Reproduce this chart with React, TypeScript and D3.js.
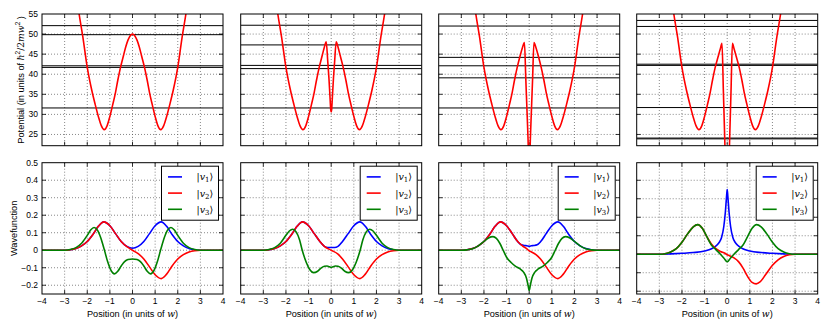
import React, { useEffect, useRef } from "react";
import * as d3 from "d3";

const W = 830;
const H = 332;

// panel layout
const panelLeft = [42, 240.7, 438.7, 636.7];
const panelWidth = 181;
const topRow = [14, 145.7];
const bottomRow = [162.7, 294];

const xTicks = [-4, -3, -2, -1, 0, 1, 2, 3, 4];
const potTicks = [25, 30, 35, 40, 45, 50, 55];
const waveTicks = [-0.2, -0.1, 0, 0.1, 0.2, 0.3, 0.4, 0.5];
const potDomain = [22.2, 55];
const waveDomains = [
	[-0.25, 0.5],
	[-0.25, 0.5],
	[-0.25, 0.5],
	[-0.215, 0.495],
];

const legendIndex = ["1", "2", "3"];
const colors = ["#0000ff", "#ff0000", "#008000"];

// potential curves (x, V)
const pot1 = [
	[-2.55, 63], [-2.36, 55], [-2.2, 49.5], [-2.0, 41.7], [-1.8, 36], [-1.65, 32.5], [-1.5, 29.3],
	[-1.38, 27.2], [-1.25, 26.2], [-1.12, 27.2], [-1.0, 29.5], [-0.87, 32.5], [-0.75, 35.5],
	[-0.65, 38.5], [-0.53, 41.7], [-0.4, 44.6], [-0.3, 46.8], [-0.2, 48.5], [-0.1, 49.6], [0, 50],
	[0.1, 49.6], [0.2, 48.5], [0.3, 46.8], [0.4, 44.6], [0.53, 41.7], [0.65, 38.5], [0.75, 35.5],
	[0.87, 32.5], [1.0, 29.5], [1.12, 27.2], [1.25, 26.2], [1.38, 27.2], [1.5, 29.3], [1.65, 32.5],
	[1.8, 36], [2.0, 41.7], [2.2, 49.5], [2.36, 55], [2.55, 63],
];
const pot2 = [
	[-2.55, 63], [-2.36, 55], [-2.2, 49.5], [-2.0, 41.7], [-1.8, 36], [-1.65, 32.5], [-1.5, 29.3],
	[-1.38, 27.2], [-1.25, 26.2], [-1.12, 27.2], [-1.0, 29.5], [-0.87, 32.5], [-0.75, 35.5],
	[-0.65, 38.5], [-0.53, 41.7], [-0.4, 44.6], [-0.3, 46.8], [-0.22, 48.1], [-0.15, 43],
	[-0.1, 39], [-0.05, 34], [-0.02, 31.2], [0, 30.6], [0.02, 31.2], [0.05, 34], [0.1, 39],
	[0.15, 43], [0.22, 48.1], [0.3, 46.8], [0.4, 44.6], [0.53, 41.7], [0.65, 38.5], [0.75, 35.5],
	[0.87, 32.5], [1.0, 29.5], [1.12, 27.2], [1.25, 26.2], [1.38, 27.2], [1.5, 29.3], [1.65, 32.5],
	[1.8, 36], [2.0, 41.7], [2.2, 49.5], [2.36, 55], [2.55, 63],
];
const pot3 = [
	[-2.55, 63], [-2.36, 55], [-2.2, 49.5], [-2.0, 41.7], [-1.8, 36], [-1.65, 32.5], [-1.5, 29.3],
	[-1.38, 27.2], [-1.25, 26.2], [-1.12, 27.2], [-1.0, 29.5], [-0.87, 32.5], [-0.75, 35.5],
	[-0.65, 38.5], [-0.53, 41.7], [-0.4, 44.6], [-0.3, 46.6], [-0.21, 47.9], [-0.15, 38.8],
	[-0.1, 31.3], [-0.05, 23.7], [0, 14], [0.05, 23.7], [0.1, 31.3], [0.15, 38.8], [0.21, 47.9],
	[0.3, 46.6], [0.4, 44.6], [0.53, 41.7], [0.65, 38.5], [0.75, 35.5], [0.87, 32.5], [1.0, 29.5],
	[1.12, 27.2], [1.25, 26.2], [1.38, 27.2], [1.5, 29.3], [1.65, 32.5], [1.8, 36], [2.0, 41.7],
	[2.2, 49.5], [2.36, 55], [2.55, 63],
];
const pot4 = [
	[-2.55, 63], [-2.36, 55], [-2.2, 49.5], [-2.0, 41.7], [-1.8, 36], [-1.65, 32.5], [-1.5, 29.3],
	[-1.38, 27.2], [-1.25, 26.2], [-1.12, 27.2], [-1.0, 29.5], [-0.87, 32.5], [-0.75, 35.5],
	[-0.65, 38.5], [-0.53, 41.7], [-0.4, 44.4], [-0.3, 46.4], [-0.23, 47.7], [-0.17, 36],
	[-0.1, 22.2], [-0.06, 14], [0, 6], [0.06, 14], [0.1, 22.2], [0.17, 36], [0.23, 47.7],
	[0.3, 46.4], [0.4, 44.4], [0.53, 41.7], [0.65, 38.5], [0.75, 35.5], [0.87, 32.5], [1.0, 29.5],
	[1.12, 27.2], [1.25, 26.2], [1.38, 27.2], [1.5, 29.3], [1.65, 32.5], [1.8, 36], [2.0, 41.7],
	[2.2, 49.5], [2.36, 55], [2.55, 63],
];

// energy levels
const levels1 = [52.1, 49.85, 42.1, 41.7, 31.6];
const levels2 = [52.2, 47.3, 42.2, 41.4, 31.6];
const levels3 = [52.0, 44.2, 42.1, 39.1, 31.6];
const levels4 = [53.4, 51.9, 42.5, 42.2, 31.7, 24.1, 23.9];

// wavefunctions, panel 1
const blue1 = [
	[-4, 0], [-3, 0], [-2.75, 0.003], [-2.5, 0.01], [-2.25, 0.025], [-2, 0.05], [-1.75, 0.09],
	[-1.5, 0.138], [-1.27, 0.162], [-1, 0.14], [-0.75, 0.095], [-0.5, 0.05], [-0.25, 0.022],
	[0, 0.011], [0.25, 0.022], [0.5, 0.05], [0.75, 0.095], [1, 0.14], [1.27, 0.162], [1.5, 0.138],
	[1.75, 0.09], [2, 0.05], [2.25, 0.025], [2.5, 0.01], [2.75, 0.003], [3, 0], [4, 0],
];
const red1 = [
	[-4, 0], [-3, 0], [-2.75, 0.003], [-2.5, 0.01], [-2.25, 0.025], [-2, 0.05], [-1.75, 0.09],
	[-1.5, 0.138], [-1.27, 0.162], [-1, 0.14], [-0.75, 0.095], [-0.5, 0.05], [-0.25, 0.02],
	[0, 0], [0.25, -0.02], [0.5, -0.05], [0.75, -0.095], [1, -0.14], [1.27, -0.162], [1.5, -0.138],
	[1.75, -0.09], [2, -0.05], [2.25, -0.025], [2.5, -0.01], [2.75, -0.003], [3, 0], [4, 0],
];
const green1 = [
	[-4, 0], [-3, 0], [-2.75, 0.004], [-2.5, 0.015], [-2.25, 0.04], [-2, 0.085], [-1.85, 0.115],
	[-1.7, 0.13], [-1.55, 0.115], [-1.4, 0.07], [-1.25, 0.005], [-1.1, -0.065], [-0.95, -0.115],
	[-0.8, -0.135], [-0.65, -0.12], [-0.5, -0.09], [-0.35, -0.065], [-0.2, -0.053], [0, -0.05],
	[0.2, -0.053], [0.35, -0.065], [0.5, -0.09], [0.65, -0.12], [0.8, -0.135], [0.95, -0.115],
	[1.1, -0.065], [1.25, 0.005], [1.4, 0.07], [1.55, 0.115], [1.7, 0.13], [1.85, 0.115],
	[2, 0.085], [2.25, 0.04], [2.5, 0.015], [2.75, 0.004], [3, 0], [4, 0],
];

// panel 2
const blue2 = [
	[-4, 0], [-3, 0], [-2.75, 0.003], [-2.5, 0.01], [-2.25, 0.025], [-2, 0.05], [-1.75, 0.09],
	[-1.5, 0.138], [-1.27, 0.162], [-1, 0.14], [-0.75, 0.095], [-0.5, 0.05], [-0.3, 0.022],
	[-0.15, 0.016], [0, 0.016], [0.15, 0.016], [0.3, 0.022], [0.5, 0.05], [0.75, 0.095],
	[1, 0.14], [1.27, 0.162], [1.5, 0.138], [1.75, 0.09], [2, 0.05], [2.25, 0.025], [2.5, 0.01],
	[2.75, 0.003], [3, 0], [4, 0],
];
const red2 = [
	[-4, 0], [-3, 0], [-2.75, 0.003], [-2.5, 0.01], [-2.25, 0.025], [-2, 0.05], [-1.75, 0.09],
	[-1.5, 0.138], [-1.27, 0.162], [-1, 0.14], [-0.75, 0.095], [-0.5, 0.05], [-0.3, 0.022],
	[0, 0], [0.3, -0.022], [0.5, -0.05], [0.75, -0.095], [1, -0.14], [1.27, -0.162], [1.5, -0.138],
	[1.75, -0.09], [2, -0.05], [2.25, -0.025], [2.5, -0.01], [2.75, -0.003], [3, 0], [4, 0],
];
const green2 = [
	[-4, 0], [-3, 0], [-2.75, 0.004], [-2.5, 0.015], [-2.25, 0.04], [-2, 0.085], [-1.85, 0.11],
	[-1.7, 0.12], [-1.55, 0.105], [-1.4, 0.06], [-1.28, 0.0], [-1.1, -0.07], [-0.95, -0.11],
	[-0.78, -0.128], [-0.6, -0.12], [-0.45, -0.102], [-0.3, -0.092], [-0.18, -0.09],
	[-0.08, -0.095], [0, -0.098], [0.08, -0.095], [0.18, -0.09], [0.3, -0.092], [0.45, -0.102],
	[0.6, -0.12], [0.78, -0.128], [0.95, -0.11], [1.1, -0.07], [1.28, 0.0], [1.4, 0.06],
	[1.55, 0.105], [1.7, 0.12], [1.85, 0.11], [2, 0.085], [2.25, 0.04], [2.5, 0.015],
	[2.75, 0.004], [3, 0], [4, 0],
];

// panel 3
const blue3 = [
	[-4, 0], [-3, 0], [-2.75, 0.003], [-2.5, 0.01], [-2.25, 0.025], [-2, 0.05], [-1.75, 0.09],
	[-1.5, 0.138], [-1.27, 0.162], [-1, 0.14], [-0.75, 0.095], [-0.5, 0.048], [-0.35, 0.031],
	[-0.2, 0.027], [-0.1, 0.026], [0, 0.022], [0.1, 0.026], [0.2, 0.027], [0.35, 0.031],
	[0.5, 0.048], [0.75, 0.095], [1, 0.14], [1.27, 0.162], [1.5, 0.138], [1.75, 0.09], [2, 0.05],
	[2.25, 0.025], [2.5, 0.01], [2.75, 0.003], [3, 0], [4, 0],
];
const red3 = [
	[-4, 0], [-3, 0], [-2.75, 0.003], [-2.5, 0.01], [-2.25, 0.025], [-2, 0.05], [-1.75, 0.09],
	[-1.5, 0.138], [-1.27, 0.162], [-1, 0.14], [-0.75, 0.095], [-0.5, 0.048], [-0.3, 0.025],
	[-0.1, 0.008], [0, -0.004], [0.1, -0.01], [0.3, -0.025], [0.5, -0.05], [0.75, -0.095],
	[1, -0.14], [1.27, -0.162], [1.5, -0.138], [1.75, -0.09], [2, -0.05], [2.25, -0.025],
	[2.5, -0.01], [2.75, -0.003], [3, 0], [4, 0],
];
const green3 = [
	[-4, 0], [-3, 0], [-2.75, 0.002], [-2.5, 0.008], [-2.25, 0.025], [-2, 0.05], [-1.8, 0.07],
	[-1.6, 0.078], [-1.45, 0.068], [-1.3, 0.04], [-1.15, 0.0], [-1.0, -0.04], [-0.8, -0.07],
	[-0.6, -0.092], [-0.4, -0.107], [-0.25, -0.125], [-0.12, -0.16], [-0.05, -0.2], [0, -0.23],
	[0.05, -0.2], [0.12, -0.16], [0.25, -0.125], [0.4, -0.107], [0.6, -0.092], [0.8, -0.07],
	[1.0, -0.04], [1.15, 0.0], [1.3, 0.04], [1.45, 0.068], [1.6, 0.078], [1.8, 0.07], [2, 0.05],
	[2.25, 0.025], [2.5, 0.008], [2.75, 0.002], [3, 0], [4, 0],
];

// panel 4
const blue4 = [
	[-4, 0], [-3, 0], [-2.5, 0.002], [-2, 0.005], [-1.5, 0.009], [-1, 0.017], [-0.8, 0.024],
	[-0.6, 0.036], [-0.45, 0.05], [-0.35, 0.065], [-0.25, 0.09], [-0.15, 0.15], [-0.08, 0.23],
	[-0.03, 0.31], [0, 0.35], [0.03, 0.31], [0.08, 0.23], [0.15, 0.15], [0.25, 0.09],
	[0.35, 0.065], [0.45, 0.05], [0.6, 0.036], [0.8, 0.024], [1, 0.017], [1.5, 0.009],
	[2, 0.005], [2.5, 0.002], [3, 0], [4, 0],
];
const red4 = [
	[-4, 0], [-3, 0], [-2.75, 0.003], [-2.5, 0.012], [-2.25, 0.03], [-2, 0.065], [-1.75, 0.11],
	[-1.5, 0.148], [-1.3, 0.16], [-1.1, 0.14], [-0.9, 0.095], [-0.7, 0.055], [-0.5, 0.03],
	[-0.3, 0.015], [-0.1, 0.005], [0, -0.003], [0.1, -0.008], [0.3, -0.02], [0.5, -0.04],
	[0.7, -0.075], [0.9, -0.12], [1.1, -0.152], [1.28, -0.16], [1.45, -0.15], [1.7, -0.11],
	[2, -0.06], [2.25, -0.03], [2.5, -0.012], [2.75, -0.003], [3, 0], [4, 0],
];
const green4 = [
	[-4, 0], [-3, 0], [-2.75, 0.003], [-2.5, 0.012], [-2.25, 0.03], [-2, 0.065], [-1.75, 0.11],
	[-1.5, 0.148], [-1.3, 0.16], [-1.1, 0.14], [-0.9, 0.095], [-0.7, 0.05], [-0.5, 0.025],
	[-0.3, 0.0], [-0.15, -0.02], [0, -0.04], [0.15, -0.02], [0.3, 0.0], [0.5, 0.025], [0.7, 0.05],
	[0.9, 0.095], [1.1, 0.14], [1.3, 0.16], [1.5, 0.148], [1.75, 0.11], [2, 0.065], [2.25, 0.03],
	[2.5, 0.012], [2.75, 0.003], [3, 0], [4, 0],
];

const potentials = [pot1, pot2, pot3, pot4];
const levels = [levels1, levels2, levels3, levels4];
const waves = [
	[blue1, red1, green1],
	[blue2, red2, green2],
	[blue3, red3, green3],
	[blue4, red4, green4],
];

const tickFont = "'Liberation Sans', Arial, sans-serif";
const mathFont = "'DejaVu Serif', serif";
const fmt = (v: number) => {
	const s = Number.isInteger(v) ? `${v}` : v.toFixed(1);
	return s.replace("-", "\u2212");
};

export default function App() {
	const ref = useRef<SVGSVGElement>(null);

	useEffect(() => {
		const svg = d3.select(ref.current);
		svg.selectAll("*").remove();
		svg.append("rect").attr("width", W).attr("height", H).attr("fill", "#fff");
		const defs = svg.append("defs");

		const drawAxes = (
			g: any,
			x: any,
			y: any,
			yTicks: number[],
			showYLabels: boolean,
			showXLabels: boolean
		) => {
			const [x0, x1] = x.range();
			const [y1, y0] = y.range();
			const innerX = xTicks.filter(t => x(t) > x0 + 0.5 && x(t) < x1 - 0.5);
			const innerY = yTicks.filter(t => y(t) > y0 + 0.5 && y(t) < y1 - 0.5);

			// grid
			g.selectAll(null)
				.data(innerX)
				.enter()
				.append("line")
				.attr("x1", d => x(d))
				.attr("x2", d => x(d))
				.attr("y1", y0)
				.attr("y2", y1)
				.attr("stroke", "#555")
				.attr("stroke-width", 0.7)
				.attr("stroke-dasharray", "1,2");
			g.selectAll(null)
				.data(innerY)
				.enter()
				.append("line")
				.attr("x1", x0)
				.attr("x2", x1)
				.attr("y1", d => y(d))
				.attr("y2", d => y(d))
				.attr("stroke", "#555")
				.attr("stroke-width", 0.7)
				.attr("stroke-dasharray", "1,2");

			// inward ticks on all four sides
			innerX.forEach(t => {
				g.append("line").attr("x1", x(t)).attr("x2", x(t)).attr("y1", y1).attr("y2", y1 - 4)
					.attr("stroke", "#000").attr("stroke-width", 0.8);
				g.append("line").attr("x1", x(t)).attr("x2", x(t)).attr("y1", y0).attr("y2", y0 + 4)
					.attr("stroke", "#000").attr("stroke-width", 0.8);
			});
			innerY.forEach(t => {
				g.append("line").attr("x1", x0).attr("x2", x0 + 4).attr("y1", y(t)).attr("y2", y(t))
					.attr("stroke", "#000").attr("stroke-width", 0.8);
				g.append("line").attr("x1", x1).attr("x2", x1 - 4).attr("y1", y(t)).attr("y2", y(t))
					.attr("stroke", "#000").attr("stroke-width", 0.8);
			});

			if (showYLabels) {
				g.selectAll(null)
					.data(yTicks.filter(t => y(t) >= y0 - 0.5 && y(t) <= y1 + 0.5))
					.enter()
					.append("text")
					.attr("x", x0 - 4)
					.attr("y", d => y(d) + 3)
					.attr("text-anchor", "end")
					.attr("font-family", tickFont)
					.attr("font-size", 8.5)
					.text(d => fmt(d));
			}
			if (showXLabels) {
				g.selectAll(null)
					.data(xTicks)
					.enter()
					.append("text")
					.attr("x", d => x(d))
					.attr("y", y1 + 10)
					.attr("text-anchor", "middle")
					.attr("font-family", tickFont)
					.attr("font-size", 8.5)
					.text(d => fmt(d));
			}
		};

		const frame = (g: any, x: any, y: any) => {
			const [x0, x1] = x.range();
			const [y1, y0] = y.range();
			g.append("rect")
				.attr("x", x0)
				.attr("y", y0)
				.attr("width", x1 - x0)
				.attr("height", y1 - y0)
				.attr("fill", "none")
				.attr("stroke", "#000")
				.attr("stroke-width", 1);
		};

		panelLeft.forEach((left, i) => {
			const x = d3.scaleLinear().domain([-4, 4]).range([left, left + panelWidth]);

			// ---- Potential panel
			const yP = d3.scaleLinear().domain(potDomain).range([topRow[1], topRow[0]]);
			const gTop = svg.append("g");
			const clipTop = `clip-top-${i}`;
			defs.append("clipPath").attr("id", clipTop).append("rect")
				.attr("x", left).attr("y", topRow[0]).attr("width", panelWidth)
				.attr("height", topRow[1] - topRow[0]);

			drawAxes(gTop, x, yP, potTicks, i === 0, false);

			const plotTop = gTop.append("g").attr("clip-path", `url(#${clipTop})`);
			plotTop.selectAll(null)
				.data(levels[i])
				.enter()
				.append("line")
				.attr("x1", left)
				.attr("x2", left + panelWidth)
				.attr("y1", d => yP(d))
				.attr("y2", d => yP(d))
				.attr("stroke", "#000")
				.attr("stroke-width", 1);

			const potLine = d3.line<number[]>()
				.x(d => x(d[0]))
				.y(d => yP(d[1]))
				.curve(d3.curveMonotoneX);
			plotTop.append("path")
				.datum(potentials[i])
				.attr("fill", "none")
				.attr("stroke", "#ff0000")
				.attr("stroke-width", 1.6)
				.attr("d", potLine);

			frame(gTop, x, yP);

			// ---- Wavefunction panel
			const yW = d3.scaleLinear().domain(waveDomains[i]).range([bottomRow[1], bottomRow[0]]);
			const gBot = svg.append("g");
			const clipBot = `clip-bot-${i}`;
			defs.append("clipPath").attr("id", clipBot).append("rect")
				.attr("x", left).attr("y", bottomRow[0]).attr("width", panelWidth)
				.attr("height", bottomRow[1] - bottomRow[0]);

			drawAxes(gBot, x, yW, waveTicks, i === 0, true);

			const waveLine = d3.line<number[]>()
				.x(d => x(d[0]))
				.y(d => yW(d[1]))
				.curve(d3.curveMonotoneX);
			const plotBot = gBot.append("g").attr("clip-path", `url(#${clipBot})`);
			waves[i].forEach((series, k) => {
				plotBot.append("path")
					.datum(series)
					.attr("fill", "none")
					.attr("stroke", colors[k])
					.attr("stroke-width", 1.6)
					.attr("d", waveLine);
			});

			frame(gBot, x, yW);

			// legend
			const lw = 57;
			const lh = 54;
			const lx = left + panelWidth - 4.5 - lw;
			const ly = bottomRow[0] + 3.5;
			const leg = gBot.append("g");
			leg.append("rect")
				.attr("x", lx)
				.attr("y", ly)
				.attr("width", lw)
				.attr("height", lh)
				.attr("fill", "#fff")
				.attr("stroke", "#000")
				.attr("stroke-width", 1);
			legendIndex.forEach((lab, k) => {
				const ry = ly + 10.7 + k * 16.2;
				leg.append("line")
					.attr("x1", lx + 6.5)
					.attr("x2", lx + 20.5)
					.attr("y1", ry)
					.attr("y2", ry)
					.attr("stroke", colors[k])
					.attr("stroke-width", 1.6);
				const t = leg.append("text")
					.attr("x", lx + 35)
					.attr("y", ry + 3.5)
					.attr("font-family", mathFont)
					.attr("font-size", 9.5);
				t.append("tspan").text("|");
				t.append("tspan").attr("font-style", "italic").text("v");
				t.append("tspan").attr("font-size", 7).attr("dy", 2).text(lab);
				t.append("tspan").attr("dy", -2).text("\u27E9");
			});

			// x label
			const xl = gBot.append("text")
				.attr("x", left + panelWidth / 2)
				.attr("y", 317)
				.attr("text-anchor", "middle")
				.attr("font-family", tickFont)
				.attr("font-size", 9.2);
			xl.append("tspan").text("Position (in units of ");
			xl.append("tspan").attr("font-family", mathFont).attr("font-style", "italic").text("w");
			xl.append("tspan").text(")");
		});

		// y labels
		const yl1 = svg.append("text")
			.attr("transform", `translate(23.5, ${(topRow[0] + topRow[1]) / 2}) rotate(-90)`)
			.attr("text-anchor", "middle")
			.attr("font-family", tickFont)
			.attr("font-size", 9.2);
		yl1.append("tspan").text("Potential (in units of ");
		yl1.append("tspan").attr("font-family", mathFont).attr("font-style", "italic").text("\u210F");
		yl1.append("tspan").attr("font-size", 6.5).attr("dy", -4).text("2");
		yl1.append("tspan").attr("font-family", mathFont).attr("dy", 4).text("/2");
		yl1.append("tspan").attr("font-family", mathFont).attr("font-style", "italic").text("mw");
		yl1.append("tspan").attr("font-size", 6.5).attr("dy", -4).text("2");
		yl1.append("tspan").attr("dy", 4).text(" )");

		svg.append("text")
			.attr("transform", `translate(16.5, ${(bottomRow[0] + bottomRow[1]) / 2}) rotate(-90)`)
			.attr("text-anchor", "middle")
			.attr("font-family", tickFont)
			.attr("font-size", 9.2)
			.text("Wavefunction");
	}, []);

	return (
		<div style={{ position: "absolute", left: 0, top: 0 }}>
			<svg ref={ref} width={W} height={H} style={{ display: "block" }} />
		</div>
	);
}
